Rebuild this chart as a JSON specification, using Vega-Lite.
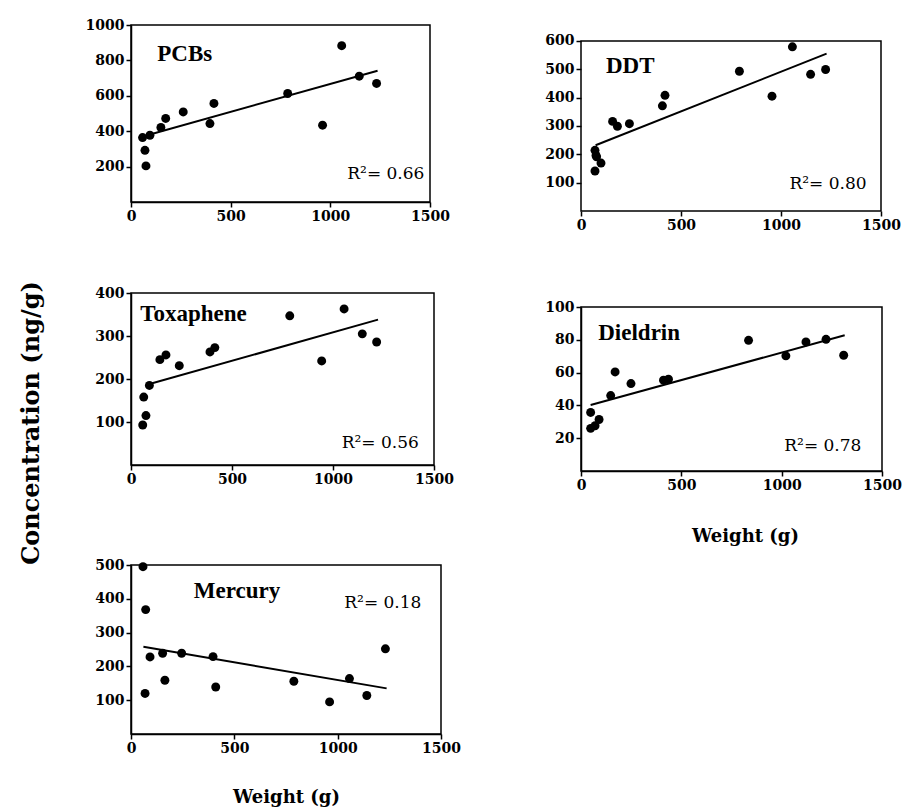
{
  "$schema": "https://vega.github.io/schema/vega-lite/v6.json",
  "background": "white",
  "padding": {"left": 20, "top": 17, "right": 2, "bottom": 2},
  "title": {"text": "Concentration (ng/g)", "orient": "left", "anchor": "middle", "font": "DejaVu Serif", "fontSize": 24, "fontWeight": "bold", "color": "black", "offset": 40, "dx": -11},
  "datasets": {
    "points": [
      {"panel": "PCBs", "weight": 58, "conc": 364}, {"panel": "PCBs", "weight": 70, "conc": 292}, {"panel": "PCBs", "weight": 75, "conc": 204}, {"panel": "PCBs", "weight": 95, "conc": 377}, {"panel": "PCBs", "weight": 150, "conc": 421}, {"panel": "PCBs", "weight": 174, "conc": 472}, {"panel": "PCBs", "weight": 262, "conc": 509}, {"panel": "PCBs", "weight": 396, "conc": 443}, {"panel": "PCBs", "weight": 416, "conc": 557}, {"panel": "PCBs", "weight": 786, "conc": 613}, {"panel": "PCBs", "weight": 1057, "conc": 883}, {"panel": "PCBs", "weight": 961, "conc": 434}, {"panel": "PCBs", "weight": 1145, "conc": 711}, {"panel": "PCBs", "weight": 1232, "conc": 670},
      {"panel": "DDT", "weight": 70, "conc": 214}, {"panel": "DDT", "weight": 75, "conc": 196}, {"panel": "DDT", "weight": 78, "conc": 191}, {"panel": "DDT", "weight": 70, "conc": 141}, {"panel": "DDT", "weight": 100, "conc": 169}, {"panel": "DDT", "weight": 158, "conc": 316}, {"panel": "DDT", "weight": 182, "conc": 299}, {"panel": "DDT", "weight": 242, "conc": 308}, {"panel": "DDT", "weight": 407, "conc": 371}, {"panel": "DDT", "weight": 420, "conc": 408}, {"panel": "DDT", "weight": 792, "conc": 493}, {"panel": "DDT", "weight": 955, "conc": 405}, {"panel": "DDT", "weight": 1057, "conc": 579}, {"panel": "DDT", "weight": 1148, "conc": 482}, {"panel": "DDT", "weight": 1223, "conc": 499},
      {"panel": "Toxaphene", "weight": 58, "conc": 93}, {"panel": "Toxaphene", "weight": 74, "conc": 115}, {"panel": "Toxaphene", "weight": 63, "conc": 158}, {"panel": "Toxaphene", "weight": 91, "conc": 185}, {"panel": "Toxaphene", "weight": 143, "conc": 245}, {"panel": "Toxaphene", "weight": 173, "conc": 256}, {"panel": "Toxaphene", "weight": 239, "conc": 231}, {"panel": "Toxaphene", "weight": 391, "conc": 263}, {"panel": "Toxaphene", "weight": 415, "conc": 273}, {"panel": "Toxaphene", "weight": 786, "conc": 347}, {"panel": "Toxaphene", "weight": 944, "conc": 242}, {"panel": "Toxaphene", "weight": 1055, "conc": 363}, {"panel": "Toxaphene", "weight": 1145, "conc": 305}, {"panel": "Toxaphene", "weight": 1216, "conc": 286},
      {"panel": "Dieldrin", "weight": 48, "conc": 35.7}, {"panel": "Dieldrin", "weight": 48, "conc": 26}, {"panel": "Dieldrin", "weight": 70, "conc": 27.6}, {"panel": "Dieldrin", "weight": 90, "conc": 31.4}, {"panel": "Dieldrin", "weight": 148, "conc": 46}, {"panel": "Dieldrin", "weight": 170, "conc": 60.4}, {"panel": "Dieldrin", "weight": 249, "conc": 53.3}, {"panel": "Dieldrin", "weight": 411, "conc": 55.4}, {"panel": "Dieldrin", "weight": 436, "conc": 56}, {"panel": "Dieldrin", "weight": 835, "conc": 79.7}, {"panel": "Dieldrin", "weight": 1021, "conc": 70.2}, {"panel": "Dieldrin", "weight": 1121, "conc": 78.7}, {"panel": "Dieldrin", "weight": 1221, "conc": 80.3}, {"panel": "Dieldrin", "weight": 1309, "conc": 70.6},
      {"panel": "Mercury", "weight": 58, "conc": 495}, {"panel": "Mercury", "weight": 71, "conc": 368}, {"panel": "Mercury", "weight": 68, "conc": 120}, {"panel": "Mercury", "weight": 92, "conc": 228}, {"panel": "Mercury", "weight": 153, "conc": 239}, {"panel": "Mercury", "weight": 164, "conc": 159}, {"panel": "Mercury", "weight": 245, "conc": 239}, {"panel": "Mercury", "weight": 397, "conc": 229}, {"panel": "Mercury", "weight": 410, "conc": 139}, {"panel": "Mercury", "weight": 788, "conc": 156}, {"panel": "Mercury", "weight": 961, "conc": 95}, {"panel": "Mercury", "weight": 1057, "conc": 164}, {"panel": "Mercury", "weight": 1141, "conc": 114}, {"panel": "Mercury", "weight": 1231, "conc": 252}
    ],
    "fits": [
      {"panel": "PCBs", "weight": 50, "conc": 367}, {"panel": "PCBs", "weight": 1237, "conc": 742},
      {"panel": "DDT", "weight": 73, "conc": 232}, {"panel": "DDT", "weight": 1228, "conc": 555},
      {"panel": "Toxaphene", "weight": 74, "conc": 186}, {"panel": "Toxaphene", "weight": 1223, "conc": 338},
      {"panel": "Dieldrin", "weight": 48, "conc": 40.2}, {"panel": "Dieldrin", "weight": 1314, "conc": 82.8},
      {"panel": "Mercury", "weight": 60, "conc": 258}, {"panel": "Mercury", "weight": 1237, "conc": 135}
    ]
  },
  "config": {
    "view": {"stroke": "black", "strokeWidth": 1.5},
    "axis": {"grid": false, "domainColor": "black", "domainWidth": 1.5, "tickColor": "black", "tickSize": 5, "tickWidth": 1.5, "labelFont": "DejaVu Serif", "labelFontSize": 14, "labelFontWeight": "bold", "labelColor": "black", "labelPadding": 2, "labelOverlap": false, "labelFlush": false, "format": "d", "titleFont": "DejaVu Serif", "titleFontSize": 18, "titleFontWeight": "bold", "titleColor": "black", "titlePadding": 35}
  },
  "spacing": 82,
  "hconcat": [
    {
      "concat": [
        {
          "concat": [
            {
              "width": 299, "height": 177,
              "layer": [
                {"data": {"name": "points"}, "transform": [{"filter": "datum.panel === 'PCBs'"}], "mark": {"type": "circle", "size": 80, "color": "black", "opacity": 1},
                 "encoding": {"x": {"field": "weight", "type": "quantitative", "scale": {"domain": [0, 1500], "nice": false}, "axis": {"values": [0, 500, 1000, 1500], "tickCount": 10, "title": null}},
                              "y": {"field": "conc", "type": "quantitative", "scale": {"domain": [0, 1000], "nice": false}, "axis": {"values": [200, 400, 600, 800, 1000], "tickCount": 10, "title": null}}}},
                {"data": {"name": "fits"}, "transform": [{"filter": "datum.panel === 'PCBs'"}], "mark": {"type": "line", "color": "black", "strokeWidth": 2},
                 "encoding": {"x": {"field": "weight", "type": "quantitative"}, "y": {"field": "conc", "type": "quantitative"}}},
                {"data": {"values": [{}]}, "mark": {"type": "text", "font": "Liberation Serif", "fontSize": 23, "fontWeight": "bold", "align": "left", "baseline": "alphabetic", "color": "black"},
                 "encoding": {"x": {"datum": 132}, "y": {"datum": 796}, "text": {"value": "PCBs"}}},
                {"data": {"values": [{}]}, "mark": {"type": "text", "font": "DejaVu Serif", "fontSize": 17, "align": "left", "baseline": "alphabetic", "color": "black"},
                 "encoding": {"x": {"datum": 1085}, "y": {"datum": 132}, "text": {"value": "R²= 0.66"}}}
              ]
            },
            {
              "width": 303, "height": 172,
              "layer": [
                {"data": {"name": "points"}, "transform": [{"filter": "datum.panel === 'Toxaphene'"}], "mark": {"type": "circle", "size": 80, "color": "black", "opacity": 1},
                 "encoding": {"x": {"field": "weight", "type": "quantitative", "scale": {"domain": [0, 1500], "nice": false}, "axis": {"values": [0, 500, 1000, 1500], "tickCount": 10, "title": null}},
                              "y": {"field": "conc", "type": "quantitative", "scale": {"domain": [0, 400], "nice": false}, "axis": {"values": [100, 200, 300, 400], "tickCount": 10, "title": null}}}},
                {"data": {"name": "fits"}, "transform": [{"filter": "datum.panel === 'Toxaphene'"}], "mark": {"type": "line", "color": "black", "strokeWidth": 2},
                 "encoding": {"x": {"field": "weight", "type": "quantitative"}, "y": {"field": "conc", "type": "quantitative"}}},
                {"data": {"values": [{}]}, "mark": {"type": "text", "font": "Liberation Serif", "fontSize": 23, "fontWeight": "bold", "align": "left", "baseline": "alphabetic", "color": "black"},
                 "encoding": {"x": {"datum": 46}, "y": {"datum": 335}, "text": {"value": "Toxaphene"}}},
                {"data": {"values": [{}]}, "mark": {"type": "text", "font": "DejaVu Serif", "fontSize": 17, "align": "left", "baseline": "alphabetic", "color": "black"},
                 "encoding": {"x": {"datum": 1043}, "y": {"datum": 39}, "text": {"value": "R²= 0.56"}}}
              ]
            }
          ],
          "columns": 1,
          "spacing": 61
        },
        {
          "width": 310, "height": 169,
          "layer": [
            {"data": {"name": "points"}, "transform": [{"filter": "datum.panel === 'Mercury'"}], "mark": {"type": "circle", "size": 80, "color": "black", "opacity": 1},
             "encoding": {"x": {"field": "weight", "type": "quantitative", "scale": {"domain": [0, 1500], "nice": false}, "axis": {"values": [0, 500, 1000, 1500], "tickCount": 10, "title": "Weight (g)", "titlePadding": 33}},
                          "y": {"field": "conc", "type": "quantitative", "scale": {"domain": [0, 500], "nice": false}, "axis": {"values": [100, 200, 300, 400, 500], "tickCount": 10, "title": null}}}},
            {"data": {"name": "fits"}, "transform": [{"filter": "datum.panel === 'Mercury'"}], "mark": {"type": "line", "color": "black", "strokeWidth": 2},
             "encoding": {"x": {"field": "weight", "type": "quantitative"}, "y": {"field": "conc", "type": "quantitative"}}},
            {"data": {"values": [{}]}, "mark": {"type": "text", "font": "Liberation Serif", "fontSize": 23, "fontWeight": "bold", "align": "left", "baseline": "alphabetic", "color": "black"},
             "encoding": {"x": {"datum": 304}, "y": {"datum": 403}, "text": {"value": "Mercury"}}},
            {"data": {"values": [{}]}, "mark": {"type": "text", "font": "DejaVu Serif", "fontSize": 17, "align": "left", "baseline": "alphabetic", "color": "black"},
             "encoding": {"x": {"datum": 1032}, "y": {"datum": 374}, "text": {"value": "R²= 0.18"}}}
          ]
        }
      ],
      "columns": 1,
      "spacing": 70
    },
    {
      "spacing": 67,
      "vconcat": [
        {
          "width": 300, "height": 186,
          "view": {"stroke": null},
          "layer": [
            {"data": {"values": [{}]}, "mark": {"type": "rect", "fill": null, "fillOpacity": 0, "stroke": "black", "strokeWidth": 1.5},
             "encoding": {"x": {"datum": 0}, "x2": {"datum": 1500}, "y": {"datum": 0}, "y2": {"datum": 600}}},
            {"data": {"name": "points"}, "transform": [{"filter": "datum.panel === 'DDT'"}], "mark": {"type": "circle", "size": 80, "color": "black", "opacity": 1},
             "encoding": {"x": {"field": "weight", "type": "quantitative", "scale": {"domain": [0, 1500], "nice": false}, "axis": {"values": [0, 500, 1000, 1500], "tickCount": 10, "title": null, "domain": false}},
                          "y": {"field": "conc", "type": "quantitative", "scale": {"domain": [0, 656], "nice": false}, "axis": {"values": [100, 200, 300, 400, 500, 600], "tickCount": 10, "title": null, "domain": false}}}},
            {"data": {"name": "fits"}, "transform": [{"filter": "datum.panel === 'DDT'"}], "mark": {"type": "line", "color": "black", "strokeWidth": 2},
             "encoding": {"x": {"field": "weight", "type": "quantitative"}, "y": {"field": "conc", "type": "quantitative"}}},
            {"data": {"values": [{}]}, "mark": {"type": "text", "font": "Liberation Serif", "fontSize": 23, "fontWeight": "bold", "align": "left", "baseline": "alphabetic", "color": "black"},
             "encoding": {"x": {"datum": 125}, "y": {"datum": 487}, "text": {"value": "DDT"}}},
            {"data": {"values": [{}]}, "mark": {"type": "text", "font": "DejaVu Serif", "fontSize": 17, "align": "left", "baseline": "alphabetic", "color": "black"},
             "encoding": {"x": {"datum": 1042}, "y": {"datum": 79}, "text": {"value": "R²= 0.80"}}}
          ]
        },
        {
          "width": 301, "height": 164,
          "layer": [
            {"data": {"name": "points"}, "transform": [{"filter": "datum.panel === 'Dieldrin'"}], "mark": {"type": "circle", "size": 80, "color": "black", "opacity": 1},
             "encoding": {"x": {"field": "weight", "type": "quantitative", "scale": {"domain": [0, 1500], "nice": false}, "axis": {"values": [0, 500, 1000, 1500], "tickCount": 10, "title": "Weight (g)", "titleX": 164}},
                          "y": {"field": "conc", "type": "quantitative", "scale": {"domain": [0, 100], "nice": false}, "axis": {"values": [20, 40, 60, 80, 100], "tickCount": 10, "title": null}}}},
            {"data": {"name": "fits"}, "transform": [{"filter": "datum.panel === 'Dieldrin'"}], "mark": {"type": "line", "color": "black", "strokeWidth": 2},
             "encoding": {"x": {"field": "weight", "type": "quantitative"}, "y": {"field": "conc", "type": "quantitative"}}},
            {"data": {"values": [{}]}, "mark": {"type": "text", "font": "Liberation Serif", "fontSize": 23, "fontWeight": "bold", "align": "left", "baseline": "alphabetic", "color": "black"},
             "encoding": {"x": {"datum": 86}, "y": {"datum": 79.7}, "text": {"value": "Dieldrin"}}},
            {"data": {"values": [{}]}, "mark": {"type": "text", "font": "DejaVu Serif", "fontSize": 17, "align": "left", "baseline": "alphabetic", "color": "black"},
             "encoding": {"x": {"datum": 1013}, "y": {"datum": 12.2}, "text": {"value": "R²= 0.78"}}}
          ]
        }
      ]
    }
  ]
}
